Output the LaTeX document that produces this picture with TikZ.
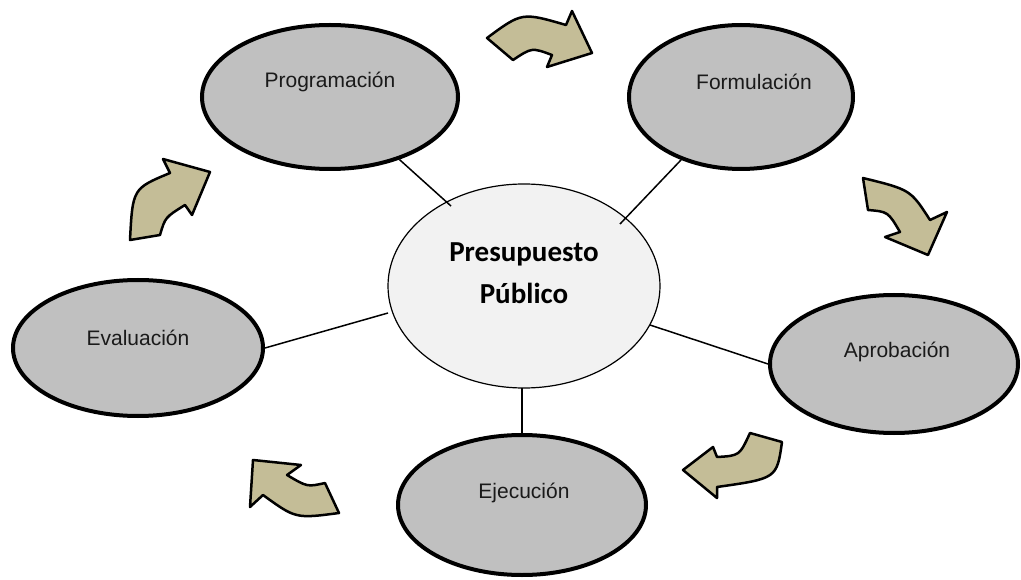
\documentclass[tikz,border=0pt]{standalone}
\usepackage{fontspec}
\setmainfont{Liberation Sans}
\newfontfamily\calib{Carlito}
\usetikzlibrary{shapes.geometric}
\definecolor{outerfill}{HTML}{C0C0C0}
\definecolor{centerfill}{HTML}{F2F2F2}
\definecolor{arrowfill}{HTML}{C4BD97}
\definecolor{txt}{HTML}{1A1A1A}
\tikzset{
  outerell/.style={ellipse, draw=black, line width=4pt, fill=outerfill, inner sep=0pt},
  centerell/.style={ellipse, draw=black, line width=1.2pt, fill=centerfill, inner sep=0pt},
  otext/.style={font=\fontsize{21}{25}\selectfont, text=txt, inner sep=0pt},
  ctext/.style={font=\calib\bfseries\fontsize{29}{42}\selectfont, align=center, inner sep=0pt},
  conn/.style={draw=black, line width=1.5pt},
  curvarrow/.style={fill=arrowfill, draw=black, line width=2.5pt, line join=round}
}
\begin{document}
\begin{tikzpicture}[x=1pt,y=-1pt]
\useasboundingbox (0,0) rectangle (1021,580);
% outer ellipses
\node[outerell, minimum width=256pt, minimum height=144pt] (prog) at (330,97) {};
\node[outerell, minimum width=224pt, minimum height=144pt] (form) at (741,97) {};
\node[outerell, minimum width=248pt, minimum height=138pt] (aprob) at (894,364) {};
\node[outerell, minimum width=248pt, minimum height=140pt] (ejec) at (522,505) {};
\node[outerell, minimum width=250pt, minimum height=136pt] (eval) at (138,348) {};
% center ellipse
\node[centerell, minimum width=272pt, minimum height=204pt] (center) at (524,286) {};
% inner ends of connectors
\coordinate (c1) at (451,206);
\coordinate (c2) at (620,224);
\coordinate (c3) at (388,313);
\coordinate (c4) at (650,325);
\coordinate (c5) at (522,388);
% connectors
\draw[conn] (prog) -- (c1);
\draw[conn] (form) -- (c2);
\draw[conn] (eval.east) -- (c3);
\draw[conn] (aprob.west) -- (c4);
\draw[conn] (ejec.north) -- (c5);
% texts
\node[otext] (progt) at (330,82) {Programación};
\node[otext] (formt) at (754,82) {Formulación};
\node[otext] (aprobt) at (897,352) {Aprobación};
\node[otext] (eject) at (524,493) {Ejecución};
\node[otext] (evalt) at (138,338) {Evaluación};
\node[ctext] (centert) at (524,273) {Presupuesto\\Público};
% curved block arrows
\draw[curvarrow] (487,38) .. controls (521.9,12.2) .. (566,25) -- (572,11) -- (592,53) -- (547,67) -- (552,55) .. controls (531.9,47.5) .. (513,60) -- cycle;
\draw[curvarrow] (863,178) .. controls (910.5,189.7) .. (930,220) -- (947,212) -- (928,255) -- (885,237) -- (900,232) .. controls (888,211.7) .. (868,210) -- cycle;
\draw[curvarrow] (782,442) .. controls (776.8,478.5) .. (717,487) -- (717,498) -- (683,470) -- (713,447) -- (717,457) .. controls (739.5,455.7) .. (750,433) -- cycle;
\draw[curvarrow] (339,513) .. controls (295.7,518.7) .. (263,495) -- (250,507) -- (253,460) -- (301,465) -- (287,475) .. controls (307.3,487) .. (325,483) -- cycle;
\draw[curvarrow] (130,240) .. controls (132.7,188.5) .. (170,173) -- (163,159) -- (210,172) -- (192,215) -- (185,205) .. controls (165.2,217.3) .. (160,235) -- cycle;
\end{tikzpicture}
\end{document}
